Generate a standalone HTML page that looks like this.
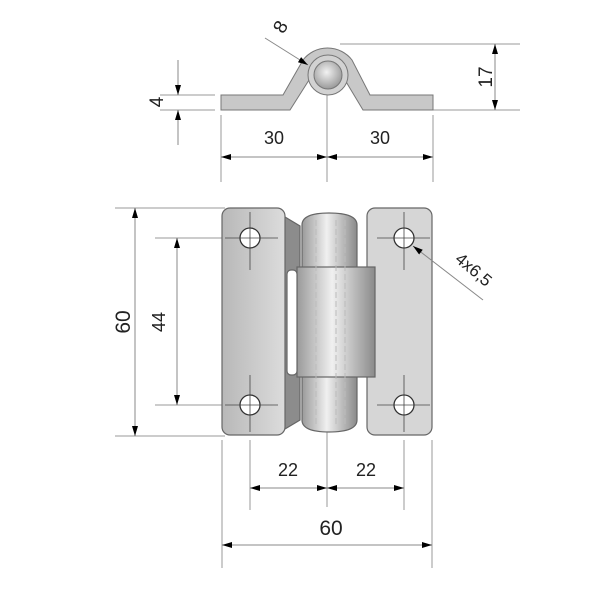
<!DOCTYPE html>
<html><head><meta charset="utf-8"><style>html,body{margin:0;padding:0;background:#fff}svg{display:block}</style></head><body>
<svg width="600" height="593" viewBox="0 0 600 593" xmlns="http://www.w3.org/2000/svg" font-family="Liberation Sans, sans-serif">
<defs>
<marker id="a" viewBox="0 0 10 6" refX="10" refY="3" markerWidth="14" markerHeight="6" markerUnits="userSpaceOnUse" orient="auto-start-reverse"><path d="M0,0L10,3L0,6z" fill="#000"/></marker>
<linearGradient id="pl" x1="0" x2="1"><stop offset="0" stop-color="#b8b8b8"/><stop offset="1" stop-color="#dcdcdc"/></linearGradient>
<linearGradient id="br" x1="0" x2="1"><stop offset="0" stop-color="#9a9a9a"/><stop offset="0.45" stop-color="#f0f0f0"/><stop offset="1" stop-color="#8a8a8a"/></linearGradient>
<radialGradient id="pin" cx="0.45" cy="0.4" r="0.6"><stop offset="0" stop-color="#f2f2f2"/><stop offset="1" stop-color="#9a9a9a"/></radialGradient>
</defs>
<g stroke="#999" stroke-width="1" fill="none">
<line x1="340" y1="44" x2="520" y2="44"/><line x1="433" y1="110" x2="520" y2="110"/>
<line x1="160" y1="95" x2="215" y2="95"/><line x1="160" y1="110" x2="215" y2="110"/>
<line x1="221" y1="115" x2="221" y2="182"/><line x1="327" y1="75" x2="327" y2="182"/><line x1="433" y1="115" x2="433" y2="182"/>
<line x1="115" y1="208" x2="225" y2="208"/><line x1="115" y1="436" x2="225" y2="436"/>
<line x1="155" y1="238" x2="260" y2="238"/><line x1="155" y1="405" x2="260" y2="405"/>
<line x1="250" y1="440" x2="250" y2="510"/><line x1="327" y1="420" x2="327" y2="507"/><line x1="404" y1="440" x2="404" y2="510"/>
<line x1="222" y1="440" x2="222" y2="568"/><line x1="432" y1="440" x2="432" y2="568"/>
</g>
<g stroke="#777" stroke-width="1">
<path d="M221,95 H283 L303,60 A31,31 0 0 1 352,60 L370,95 H433 V110 H363 L345,80 A20,20 0 0 0 309,80 L290,110 H221 Z" fill="#c8c8c8"/>
<circle cx="328" cy="75" r="20" fill="#d2d2d2"/>
<circle cx="328" cy="75" r="14" fill="url(#pin)"/>
</g>
<g stroke="#666" stroke-width="1.2">
<path d="M280,214 L300,226 V420 L280,432 Z" fill="#8c8c8c"/>
<rect x="222" y="208" width="63" height="227" rx="8" fill="url(#pl)"/>
<rect x="367" y="208" width="65" height="227" rx="8" fill="#d6d6d6"/>
<path d="M302,225 Q302,213 329,213 Q357,213 357,225 V420 Q357,432 329,432 Q302,432 302,420 Z" fill="url(#br)"/>
<rect x="297" y="267" width="78" height="110" fill="url(#br)"/>
<rect x="287" y="270" width="10" height="105" rx="4" fill="#fff" stroke="#666"/>
</g>
<g stroke="#bbb" stroke-dasharray="6,3" stroke-width="1"><line x1="316" y1="220" x2="316" y2="425"/><line x1="336" y1="220" x2="336" y2="425"/><line x1="345" y1="220" x2="345" y2="425"/></g>
<g fill="#fff" stroke="#333" stroke-width="1.3"><circle cx="250" cy="238" r="10"/><circle cx="250" cy="405" r="10"/><circle cx="404" cy="238" r="10"/><circle cx="404" cy="405" r="10"/></g>
<g stroke="#444" stroke-width="0.8"><line x1="225" y1="238" x2="278" y2="238"/><line x1="250" y1="212" x2="250" y2="270"/><line x1="225" y1="405" x2="278" y2="405"/><line x1="250" y1="375" x2="250" y2="432"/><line x1="377" y1="238" x2="430" y2="238"/><line x1="404" y1="212" x2="404" y2="270"/><line x1="377" y1="405" x2="430" y2="405"/><line x1="404" y1="375" x2="404" y2="432"/></g>
<g stroke="#888" stroke-width="1" fill="none" marker-end="url(#a)">
<line x1="495" y1="75" x2="495" y2="44"/><line x1="495" y1="75" x2="495" y2="110"/>
<line x1="178" y1="60" x2="178" y2="95"/><line x1="178" y1="145" x2="178" y2="110"/>
<line x1="274" y1="157" x2="221" y2="157"/><line x1="274" y1="157" x2="327" y2="157"/>
<line x1="380" y1="157" x2="327" y2="157"/><line x1="380" y1="157" x2="433" y2="157"/>
<line x1="265" y1="38" x2="308" y2="65"/>
<line x1="135" y1="322" x2="135" y2="208"/><line x1="135" y1="322" x2="135" y2="436"/>
<line x1="177" y1="322" x2="177" y2="238"/><line x1="177" y1="322" x2="177" y2="405"/>
<line x1="288" y1="488" x2="250" y2="488"/><line x1="288" y1="488" x2="327" y2="488"/>
<line x1="366" y1="488" x2="327" y2="488"/><line x1="366" y1="488" x2="404" y2="488"/>
<line x1="327" y1="545" x2="222" y2="545"/><line x1="327" y1="545" x2="432" y2="545"/>
<line x1="483" y1="300" x2="413" y2="246"/>
</g>
<g fill="#222" font-size="18" text-anchor="middle">
<text x="274" y="144">30</text><text x="380" y="144">30</text>
<text x="0" y="0" transform="translate(286,30) rotate(-60)" font-size="19">8</text>
<text x="0" y="0" transform="translate(492,77) rotate(-90)" font-size="19">17</text>
<text x="0" y="0" transform="translate(163,102) rotate(-90)" font-size="19">4</text>
<text x="0" y="0" transform="translate(130,322) rotate(-90)" font-size="21">60</text>
<text x="0" y="0" transform="translate(165,322) rotate(-90)">44</text>
<text x="288" y="476">22</text><text x="366" y="476">22</text>
<text x="331" y="535" font-size="21">60</text>
<text x="0" y="0" transform="translate(470,274) rotate(40)" font-size="17">4x6,5</text>
</g>
</svg>
</body></html>
